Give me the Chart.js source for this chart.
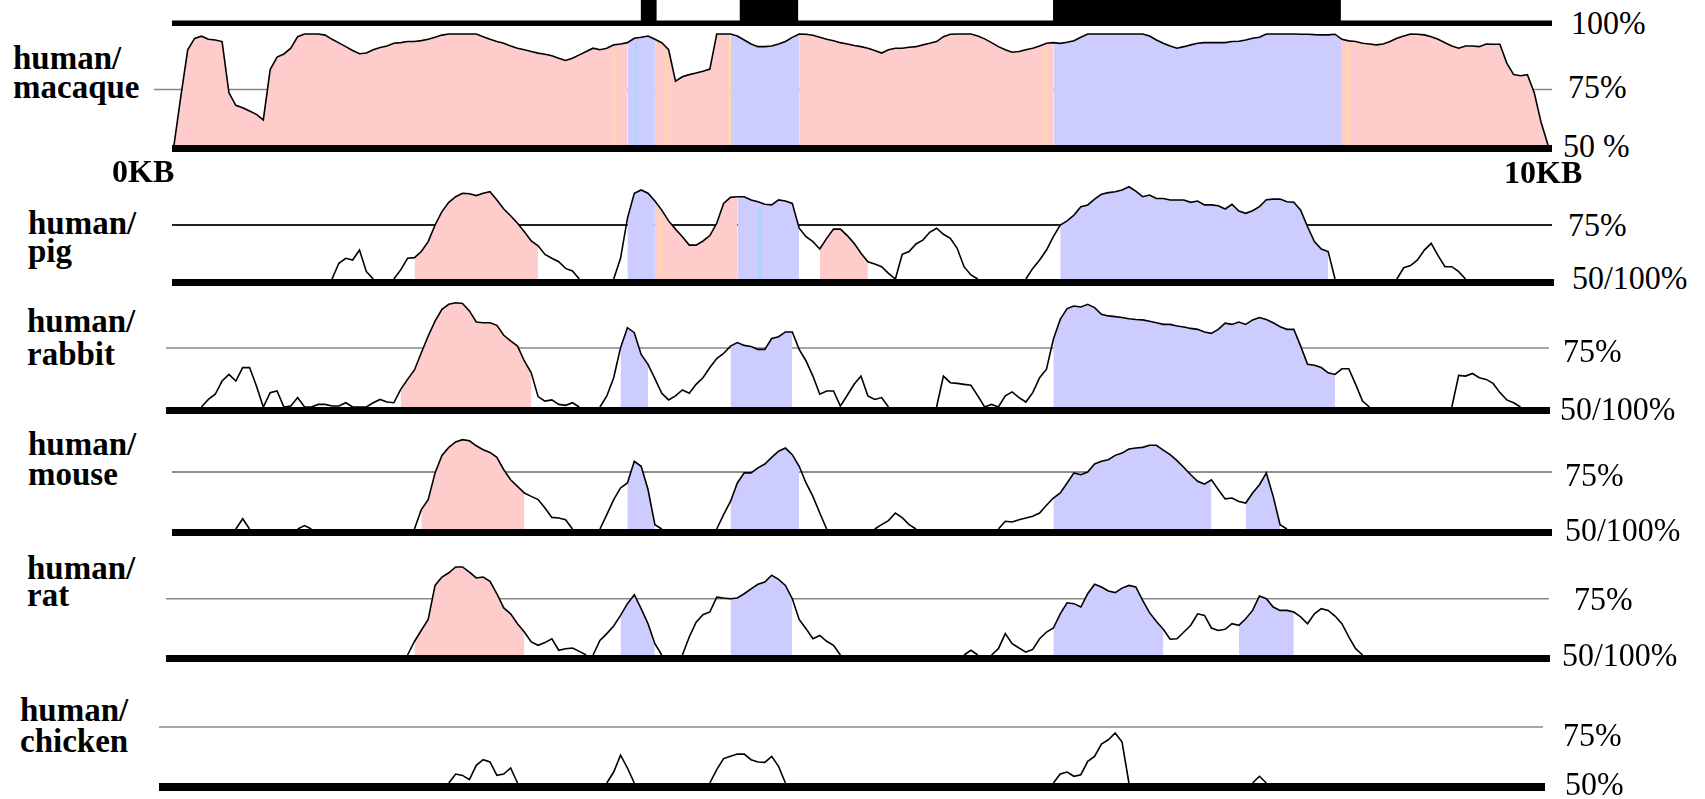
<!DOCTYPE html>
<html>
<head>
<meta charset="utf-8">
<title>Conservation plot</title>
<script src="https://cdn.jsdelivr.net/npm/chart.js@4.4.1/dist/chart.umd.min.js"></script>
<style>
  html, body { margin: 0; padding: 0; background: #fff; }
  body { position: relative; width: 1705px; height: 799px; overflow: hidden; font-family: "Liberation Serif", "Times New Roman", serif; }
  canvas { position: absolute; }
  .lbl { position: absolute; white-space: nowrap; color: #000; }
  .species { font-weight: bold; font-size: 33px; line-height: 33px; }
  .kb { font-weight: bold; font-size: 32px; line-height: 32px; }
  .pct { font-size: 34px; line-height: 34px; transform: scaleX(0.94); transform-origin: left top; }
</style>
</head>
<body>
<script>
// values are % identity, sampled every 0.05 kb; each curve piece is [start kb, values]
const stepKb = 0.05;
const exons = [[3.40, 3.51], [4.12, 4.54], [6.40, 8.49]];

const macaqueCurve = [[0, [
  50, 72, 92.9, 98, 99, 97.6, 97.3, 96.6, 73.5, 67.9,
  66.8, 65.3, 63.8, 61.3, 84, 89.6, 91, 93.6, 98.8, 100,
  100, 100, 99.5, 97.6, 96, 94.3, 92.6, 91.1, 91.4, 92.9,
  93.9, 94.6, 95.8, 96.1, 96.6, 96.6, 97, 97.6, 98.5, 99.5,
  100, 100, 100, 100, 100, 98.8, 97.6, 96.6, 95.8, 94.6,
  93.6, 92.9, 92.1, 91.4, 90.9, 90.2, 89.1, 88.1, 89.1, 90.6,
  92.1, 93.6, 92.9, 93.6, 95.1, 95.5, 96.1, 98.1, 98.5, 99.1,
  97.6, 96.1, 92.9, 78.7, 80.7, 81.7, 82.4, 83.2, 84.2, 100,
  100, 100, 99.1, 97.3, 95.5, 94.3, 94.3, 94.6, 95.5, 96.6,
  98.5, 100, 99.9, 99.4, 98.5, 97.6, 97, 96.1, 95.5, 94.8,
  94.3, 93.6, 92.6, 91.4, 92.9, 93.6, 93.6, 94, 94.3, 95.1,
  95.8, 96.6, 98.8, 99.9, 100, 100, 100, 99.1, 97.8, 96.1,
  94.3, 92.9, 91.8, 92.1, 92.9, 93.6, 94.6, 95.8, 96.1, 95.8,
  96.3, 97, 98.5, 100, 100, 100, 100, 100, 100, 100,
  100, 100, 99.1, 97.3, 95.8, 94.6, 93.6, 94.3, 95.1, 95.8,
  96.1, 96.1, 96.1, 96.1, 96.6, 96.7, 97.3, 98.1, 98.5, 100,
  100, 100, 100, 100, 99.9, 99.9, 99.7, 99.6, 99.6, 99.9,
  97.6, 96.9, 96.6, 95.8, 95.5, 95.1, 95.5, 96.6, 98.1, 99.1,
  100, 99.9, 99.6, 98.8, 97.6, 96.1, 94.6, 93.6, 94.6, 94.6,
  94.3, 95.5, 95.4, 95.4, 86.9, 81.7, 81.2, 81.7, 73.5, 60.1,
  50
]]];
const macaquePink = [[0, 3.28], [3.49, 4.07], [4.56, 6.41], [8.49, 10]];
const macaqueBlue = [[3.28, 3.49], [4.07, 4.56], [6.41, 8.49]];
// thin coloured stripes inside the shading: [kb, top %, colour]
const macaqueStripes = [[3.205, 93, '#ffd8a6'], [3.365, 96, '#a9d4ff'], [3.584, 92, '#ffd8a6'],
                        [4.043, 97, '#ffd8a6'], [6.340, 94, '#ffd8a6'], [8.540, 95, '#ffd8a6']];

const pigCurve = [
  [1.15, [50, 57.3, 59.6, 58.8, 63.4, 53.4, 50]],
  [1.60, [50, 54.2, 59.6, 59.9, 62.7, 67.3, 75, 81.2, 85.5, 88.1, 89.7, 89.5, 88.6, 89.7,
          90.4, 86.6, 82.4, 79.3, 75.8, 71.9, 67.6, 65.4, 61.4, 59.6, 58, 54.9, 53.7, 50]],
  [3.20, [50, 59.6, 78.1, 89.7, 91.2, 89.7, 86.1, 81.9, 76.9, 73.1, 69.6, 65.7, 65.7, 67.6,
          70.1, 75.8, 85, 87.8, 88.1, 88.1, 86.6, 85.8, 84.6, 84.3, 86.6, 86.1, 85, 73.5,
          69.6, 67.3, 63.9, 68.8, 73.1, 73.1, 70.1, 66.5, 61.9, 58, 56.9, 55.7, 52.6, 50,
          61.4, 62.7, 66.2, 68, 71.6, 73.5, 70.7, 68.8, 64.2, 55.7, 51.9, 50]],
  [6.20, [50, 54.9, 58.8, 63.4, 69.6, 75, 76.9, 79.6, 83.5, 84.3, 87, 89.2, 90, 90.4, 91.2,
          92.7, 90.7, 88.1, 88.9, 87.3, 87.3, 86.6, 86.6, 86.6, 85.5, 86.1, 84.3, 84.3, 83.9,
          82.4, 84.6, 81.5, 80.4, 81.6, 83.5, 86.7, 87, 87, 85.8, 85.5, 81.9, 74.2, 67.3,
          63.9, 62.7, 50]],
  [8.90, [50, 55.2, 56.2, 58.8, 63.4, 66.5, 60.8, 55.7, 55.7, 53.4, 50]]
];
const pigPink = [[1.727, 2.639], [3.492, 4.083], [4.682, 5.068]];
const pigBlue = [[3.284, 3.492], [4.083, 4.554], [6.432, 8.399]];
const pigStripes = [[3.544, 79, '#ffd8a6'], [4.263, 83, '#a9d4ff']];

const rabbitCurve = [
  [0.20, [50, 53.2, 55.4, 61, 63.8, 61,
          66.7, 66.7, 58.9, 50, 56.1, 56.8, 50, 50.4, 54, 50,
          50, 51.1, 51.1, 50.4, 50.4, 51.8, 50, 50, 50, 51.8,
          53.2, 52.1, 51.8, 57.5, 61.7, 65.7, 73, 80.1, 86.4, 91.4,
          93.5, 94.2, 93.9, 90.7, 86, 85.7, 85.7, 84.6, 80.4, 78,
          75.8, 69.5, 64.5, 54.4, 52.5, 53, 51.1, 50.7, 51.8, 50]],
  [3.10, [50, 54.7, 62.4, 75.1, 83.6, 81.5, 72.3, 68.1,
          62, 55.8, 53, 54.7, 57.2, 55.8, 59.6, 62.4, 66.7, 70.5,
          72.7, 75.8, 77.3, 76.1, 75.6, 74.4, 74.4, 79, 79.8, 81.8,
          81.8, 74.4, 69.5, 63.1, 55.4, 56.8, 56.8, 50.4, 55, 59.6,
          63.1, 54.7, 53.2, 54, 50]],
  [5.55, [50, 63.1, 60.3, 60, 59.6, 59.2, 54.7, 50, 51.1,
          50, 54.7, 56.4, 54, 52.1, 56.1, 62.4, 66, 78.7, 87.1,
          91.7, 92.8, 92.4, 93.5, 92.1, 89.3, 88.6, 88.3, 87.9, 87.4,
          87.1, 86.9, 86.3, 85.7, 85, 85, 84.3, 83.9, 83.3, 82.9,
          81.8, 81.2, 82.9, 85.5, 85, 86, 85, 86.9, 87.9, 87.1,
          85.7, 84, 82.9, 82.9, 75.8, 68.1, 67.7, 66.7, 64.5, 63.8,
          66.2, 66.2, 59.6, 52.5, 50]],
  [9.30, [50, 63.4, 63.1, 64.2, 62.4, 61.7, 60, 56.1, 53, 51.8, 50]]
];
const rabbitPink = [[1.660, 2.614]];
const rabbitBlue = [[3.245, 3.457], [4.031, 4.522], [6.380, 8.447]];

const mouseCurve = [
  [0.45, [50, 54.5, 50]],
  [0.90, [50, 51.5, 50]],
  [1.75, [50, 58.5, 62.9, 74.6, 82.3, 85.8, 88.2, 89.2, 88.7, 86.5, 84.8, 83.6, 81.4, 76,
          71.6, 68.7, 65.8, 64.3, 62.9, 59.2, 55.1, 54.8, 54.1, 50]],
  [3.10, [50, 56.3, 62.9, 68, 70.2, 79.7, 77.5, 67.3, 51.9, 50]],
  [3.95, [50, 56.3, 62.1, 70.2, 74.6, 74.6, 76.8, 78.5, 81.4, 84.1, 85.5, 82.6, 77.5, 70.2,
          64.3, 57, 50]],
  [5.10, [50, 51.9, 53.7, 57, 55, 51.9, 50]],
  [6.00, [50,
          53.4, 53.1, 54.1, 54.8, 55.6, 57, 60.4, 63.6, 65.8,
          70.2, 74.6, 73.8, 75, 78.5, 79.7, 80.4, 82.3, 83.3, 85.1,
          85.5, 85.8, 86.7, 86.7, 84.6, 82.6, 80, 77, 73.8, 70.9,
          69.7, 71.6, 67.3, 63.2, 63.6, 62.1, 61.4, 65.8, 69.4, 74.6,
          64.3, 51.9, 50]]
];
const mousePink = [[1.779, 2.554]];
const mouseBlue = [[3.285, 3.504], [4.063, 4.562], [6.420, 7.544], [7.785, 8.058]];

const ratCurve = [
  [1.70, [50, 56, 61, 65.8, 80.9, 84.6, 86.5, 89.1, 89.1, 86.8, 84.2, 84.6, 82.7, 77.2,
          70.9, 68.3, 63.9, 60.2, 55.8, 54.3, 55.5, 57.2, 52.1, 52.8, 53.1, 51.6, 50]],
  [3.05, [50, 56.5, 59.5, 62.9, 67.6, 72.8, 76.8, 70.6, 63.9, 55, 50]],
  [3.70, [50, 58, 64.6, 67.9, 69.1, 75.7, 75.3, 75, 75.3, 77.2, 79.4, 81.4, 82.4, 85.4,
          83.6, 80.9, 75, 65.8, 61.7, 57.2, 58.7, 56.1, 54.3, 50]],
  [5.75, [50, 52.1, 50]],
  [5.95, [50,
          52.8, 59.5, 55, 53.1, 51.3, 52.5, 57.2, 60.2, 62, 68.3,
          73.2, 72.8, 71.3, 77.2, 81.4, 80.2, 78.4, 77.7, 79.7, 80.9,
          80.2, 74.3, 68.8, 64.9, 61.4, 57, 57.2, 60.2, 63.2, 68.3,
          67.6, 62, 60.9, 61.4, 63.9, 63.2, 66.1, 69.8, 76.2, 75,
          71.3, 69.8, 69.8, 69.1, 66.9, 63.9, 68.3, 70.6, 69.8, 67.3,
          63.9, 58, 52.8, 50]]
];
const ratPink = [[1.748, 2.558]];
const ratBlue = [[3.253, 3.476], [4.031, 4.522], [6.384, 7.208], [7.737, 8.130]];

const chickenCurve = [
  [2.00, [50, 54, 53.4, 51.5, 57.9, 60.4, 59.4, 53.4, 54, 56.7, 50]],
  [3.15, [50, 54.9, 62.4, 56.7, 50]],
  [3.90, [50, 56, 60.9, 61.9, 62.9, 62.9, 60.4, 59.4, 59.2, 61.9, 57.4, 50]],
  [6.40, [50, 54, 54.9, 53, 53.7, 59.7, 61.9, 67.4, 69.3, 72.3, 68.3, 50]],
  [7.85, [50, 53, 50]]
];

const pinkColor = '#ffcccc';
const blueColor = '#ccccff';

// page geometry
const canvasLeft = 150, canvasRight = 1562;
const kb0 = 174, kb10 = 1548;
const pxPerKb = (kb10 - kb0) / 10;
const xMin = (canvasLeft - kb0) / pxPerKb;
const xMax = 10 + (canvasRight - kb10) / pxPerKb;

const panels = [
  {curve: macaqueCurve, pink: macaquePink, blue: macaqueBlue, stripes: macaqueStripes,
   y50: 145, span: 55.5, top: 28, bottom: 153,
   bar: 7, gridFrom: 154, gridTo: 1552, barFrom: 172, barTo: 1552, gridColor: '#888', gridWidth: 1.5},
  {curve: pigCurve, pink: pigPink, blue: pigBlue, stripes: pigStripes,
   y50: 279, span: 54, top: 165, bottom: 287,
   bar: 7, gridFrom: 172, gridTo: 1552, barFrom: 172, barTo: 1554, gridColor: '#222', gridWidth: 2},
  {curve: rabbitCurve, pink: rabbitPink, blue: rabbitBlue, stripes: [],
   y50: 407, span: 59, top: 284, bottom: 415,
   bar: 7, gridFrom: 166, gridTo: 1549, barFrom: 166, barTo: 1550, gridColor: '#888', gridWidth: 1.5},
  {curve: mouseCurve, pink: mousePink, blue: mouseBlue, stripes: [],
   y50: 529, span: 57, top: 410, bottom: 537,
   bar: 7, gridFrom: 172, gridTo: 1552, barFrom: 172, barTo: 1552, gridColor: '#666', gridWidth: 1.5},
  {curve: ratCurve, pink: ratPink, blue: ratBlue, stripes: [],
   y50: 655, span: 56.3, top: 538, bottom: 663,
   bar: 7, gridFrom: 166, gridTo: 1549, barFrom: 166, barTo: 1550, gridColor: '#888', gridWidth: 1.5},
  {curve: chickenCurve, pink: [], blue: [], stripes: [],
   y50: 783, span: 56, top: 666, bottom: 792,
   bar: 8, gridFrom: 159, gridTo: 1543, barFrom: 159, barTo: 1545, gridColor: '#888', gridWidth: 1.5}
];

const leftLabels = [
  ['human/', 13, 70], ['macaque', 13, 99],
  ['human/', 28, 235], ['pig', 28, 263],
  ['human/', 27, 333], ['rabbit', 27, 366],
  ['human/', 28, 456], ['mouse', 28, 486],
  ['human/', 27, 580], ['rat', 27, 607],
  ['human/', 20, 722], ['chicken', 20, 753]
];
const rightLabels = [
  ['100%', 1571, 34], ['75%', 1568, 98], ['50 %', 1563, 157],
  ['75%', 1568, 236], ['50/100%', 1572, 289],
  ['75%', 1563, 362], ['50/100%', 1560, 420],
  ['75%', 1565, 486], ['50/100%', 1565, 541],
  ['75%', 1574, 610], ['50/100%', 1562, 666],
  ['75%', 1563, 746], ['50%', 1565, 795]
];
const kbLabels = [['0KB', 112, 182], ['10KB', 1504, 183]];

function curvePoints(segments) {
  let pts = [];
  segments.forEach(([start, values], s) => {
    if (s > 0) pts.push({x: start - stepKb / 2, y: null});
    values.forEach((v, i) => pts.push({x: +(start + i * stepKb).toFixed(2), y: v}));
  });
  return pts;
}

// the shaded block is the part of the curve between the two nearest samples
function regionPoints(pts, range) {
  let lo = Math.round(range[0] / stepKb) * stepKb - 1e-6;
  let hi = Math.round(range[1] / stepKb) * stepKb + 1e-6;
  return pts.filter(p => p.y !== null && p.x >= lo && p.x <= hi);
}

function fillSet(data, color) {
  return {data: data, borderColor: 'rgba(0,0,0,0)', borderWidth: 0, backgroundColor: color,
          fill: {value: 50}, pointRadius: 0, tension: 0, order: 2};
}

function addCanvas(top, height) {
  let c = document.createElement('canvas');
  c.width = canvasRight - canvasLeft;
  c.height = height;
  c.style.left = canvasLeft + 'px';
  c.style.top = top + 'px';
  document.body.appendChild(c);
  return c;
}

function addText(cls, text, left, baseline, size) {
  let d = document.createElement('div');
  d.className = 'lbl ' + cls;
  d.textContent = text;
  d.style.left = left + 'px';
  d.style.top = (baseline - 0.8375 * size) + 'px';
  document.body.appendChild(d);
}

const panelLines = {
  id: 'panelLines',
  beforeDatasetsDraw(chart, args, opts) {
    let ctx = chart.ctx;
    let gy = chart.scales.y.getPixelForValue(75);
    ctx.save();
    ctx.strokeStyle = opts.gridColor;
    ctx.lineWidth = opts.gridWidth;
    ctx.beginPath();
    ctx.moveTo(opts.gridFrom - canvasLeft, gy);
    ctx.lineTo(opts.gridTo - canvasLeft, gy);
    ctx.stroke();
    ctx.restore();
  },
  afterDatasetsDraw(chart, args, opts) {
    let ctx = chart.ctx;
    let by = chart.scales.y.getPixelForValue(50);
    ctx.save();
    ctx.fillStyle = '#000';
    ctx.fillRect(opts.barFrom - canvasLeft, by, opts.barTo - opts.barFrom, opts.bar);
    ctx.restore();
  }
};

const topBar = {
  id: 'topBar',
  afterDatasetsDraw(chart) {
    let ctx = chart.ctx;
    ctx.save();
    ctx.fillStyle = '#000';
    ctx.fillRect(172 - canvasLeft, chart.chartArea.bottom - 0.5, 1552 - 172, 5.5);
    ctx.restore();
  }
};

function drawPanel(p) {
  let pts = curvePoints(p.curve);
  let datasets = [{data: pts, borderColor: '#000', borderWidth: 1.6, pointRadius: 0,
                   fill: false, spanGaps: false, tension: 0, order: 0}];
  if (p.stripes.length) {
    datasets.push({
      type: 'bar',
      data: p.stripes.map(s => ({x: s[0], y: [50, s[1]]})),
      backgroundColor: p.stripes.map(s => s[2]),
      borderWidth: 0,
      barThickness: 2,
      order: 1
    });
  }
  p.pink.forEach(r => datasets.push(fillSet(regionPoints(pts, r), pinkColor)));
  p.blue.forEach(r => datasets.push(fillSet(regionPoints(pts, r), blueColor)));

  let k = 25 / p.span;
  let canvas = addCanvas(p.top, p.bottom - p.top);
  new Chart(canvas, {
    type: 'line',
    data: {datasets: datasets},
    options: {
      responsive: false,
      animation: false,
      devicePixelRatio: 1,
      events: [],
      layout: {padding: 0},
      plugins: {
        legend: {display: false},
        tooltip: {enabled: false},
        panelLines: p
      },
      scales: {
        x: {type: 'linear', min: xMin, max: xMax, offset: false, display: false},
        y: {type: 'linear', min: 50 - (p.bottom - p.y50) * k, max: 50 + (p.y50 - p.top) * k, display: false}
      }
    },
    plugins: [panelLines]
  });
}

function drawExons() {
  let canvas = addCanvas(0, 27);
  new Chart(canvas, {
    type: 'bar',
    data: {
      labels: ['exon'],
      datasets: [{
        data: exons.map(e => ({x: e, y: 'exon'})),
        backgroundColor: '#000',
        borderWidth: 0,
        barPercentage: 1,
        categoryPercentage: 1
      }]
    },
    options: {
      indexAxis: 'y',
      responsive: false,
      animation: false,
      devicePixelRatio: 1,
      events: [],
      layout: {padding: {bottom: 6}},
      plugins: {legend: {display: false}, tooltip: {enabled: false}},
      scales: {
        x: {type: 'linear', min: xMin, max: xMax, display: false},
        y: {display: false}
      }
    },
    plugins: [topBar]
  });
}

drawExons();
panels.forEach(drawPanel);
leftLabels.forEach(l => addText('species', l[0], l[1], l[2], 33));
rightLabels.forEach(l => addText('pct', l[0], l[1], l[2], 34));
kbLabels.forEach(l => addText('kb', l[0], l[1], l[2], 32));
</script>
</body>
</html>
